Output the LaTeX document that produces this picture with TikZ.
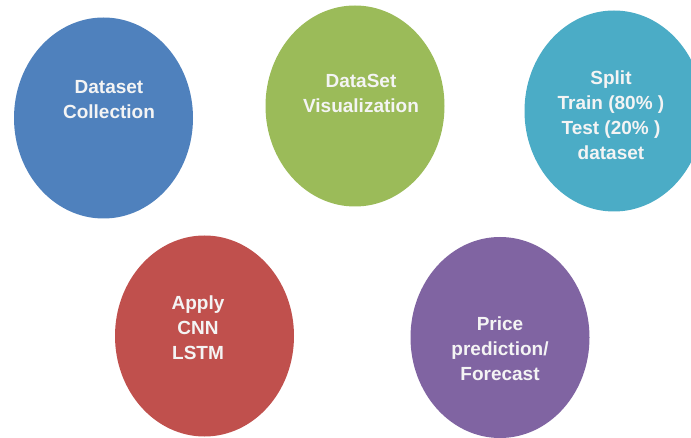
\documentclass[tikz,border=0pt]{standalone}
\usepackage{fontspec}
\setmainfont{Liberation Sans}
\usetikzlibrary{shapes.geometric}
\definecolor{cblue}{HTML}{4F81BD}
\definecolor{cgreen}{HTML}{9BBB59}
\definecolor{ccyan}{HTML}{4BACC6}
\definecolor{cred}{HTML}{C0504D}
\definecolor{cpurple}{HTML}{8064A2}
\definecolor{ctext}{HTML}{F4F4F4}
\tikzset{
  blob/.style={ellipse, draw=none, minimum width=179pt, minimum height=201pt, inner sep=0pt},
  lbl/.style={align=center, text=ctext, font=\bfseries\fontsize{19}{25}\selectfont, inner sep=0pt}
}
\begin{document}
\begin{tikzpicture}[x=1pt,y=-1pt]
\useasboundingbox (0,0) rectangle (691,438);
\fill[white] (0,0) rectangle (691,438);
\node[blob, fill=cblue]   (e1) at (103.5,118) {};
\node[blob, fill=cgreen]  (e2) at (355,106) {};
\node[blob, fill=ccyan]   (e3) at (614,111) {};
\node[blob, fill=cred]    (e4) at (204.5,336) {};
\node[blob, fill=cpurple] (e5) at (500,337.5) {};
\node[lbl] (t1) at (109,100) {Dataset\\Collection};
\node[lbl] (t2) at (361,93) {DataSet\\Visualization};
\node[lbl] (t3) at (611,115) {Split\\Train (80\% )\\Test (20\% )\\dataset};
\node[lbl] (t4) at (198,328) {Apply\\CNN\\LSTM};
\node[lbl] (t5) at (500,349) {Price\\prediction/\\Forecast};
\end{tikzpicture}
\end{document}
